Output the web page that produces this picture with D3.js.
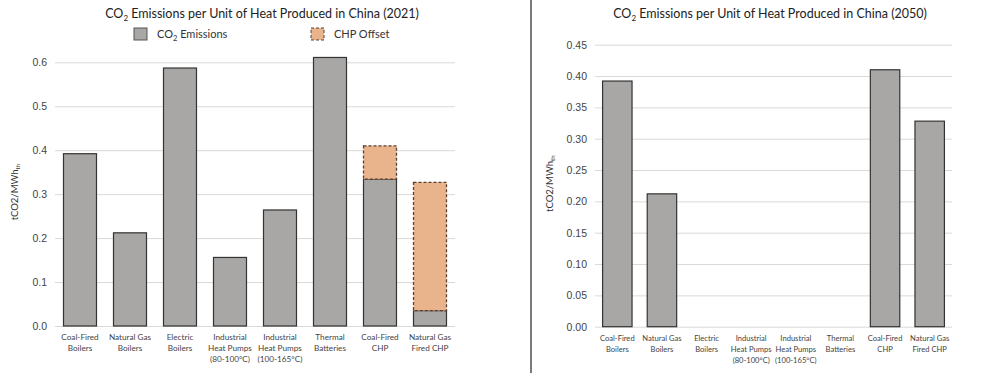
<!DOCTYPE html>
<html>
<head>
<meta charset="utf-8">
<script src="https://cdn.jsdelivr.net/npm/d3@7"></script>
<style>
  body { margin: 0; background: #fff; }
  svg { display: block; font-family: Lato, "Open Sans", sans-serif; }
  .tick text { fill: #444; }
</style>
</head>
<body>
<div id="chart"></div>
<script>
const categories = [
  ["Coal-Fired", "Boilers"],
  ["Natural Gas", "Boilers"],
  ["Electric", "Boilers"],
  ["Industrial", "Heat Pumps", "(80-100°C)"],
  ["Industrial", "Heat Pumps", "(100-165°C)"],
  ["Thermal", "Batteries"],
  ["Coal-Fired", "CHP"],
  ["Natural Gas", "Fired CHP"]
];
const emissions2021 = [0.392, 0.212, 0.587, 0.156, 0.264, 0.611, 0.334, 0.035];
const chpOffset2021 = [0, 0, 0, 0, 0, 0, 0.076, 0.292];
const emissions2050 = [0.392, 0.212, 0, 0, 0, 0, 0.410, 0.328];
const ticks2021 = [0, 0.1, 0.2, 0.3, 0.4, 0.5, 0.6];
const ticks2050 = [0, 0.05, 0.10, 0.15, 0.20, 0.25, 0.30, 0.35, 0.40, 0.45];

const W = 1000, H = 373;
const svg = d3.select("#chart").append("svg").attr("width", W).attr("height", H);

function panel(opt) {
  const x = d3.scaleBand().domain(d3.range(categories.length))
    .range([opt.left, opt.right]).paddingInner(0.34).paddingOuter(0.17);
  const y = d3.scaleLinear().domain([0, opt.max]).range([opt.bottom, opt.top]);

  // gridlines + tick labels
  const ga = svg.append("g").attr("transform", `translate(${opt.left},0)`)
    .call(d3.axisLeft(y).tickValues(opt.ticks).tickFormat(d3.format(opt.fmt))
      .tickSize(-(opt.right - opt.left)).tickPadding(8));
  ga.select(".domain").remove();
  ga.selectAll(".tick line").attr("stroke", "#d9d9d9");
  ga.selectAll(".tick text").attr("font-size", 10.5);

  // category labels
  const xa = svg.append("g");
  categories.forEach((lines, i) => {
    const cx = x(i) + x.bandwidth() / 2;
    const t = xa.append("text").attr("x", cx).attr("y", opt.bottom + 14)
      .attr("text-anchor", "middle").attr("font-size", opt.labelSize).attr("fill", "#444");
    lines.forEach((l, j) => t.append("tspan").attr("x", cx).attr("dy", j ? 11 : 0).text(l));
  });

  // bars
  const g = svg.append("g");
  opt.base.forEach((v, i) => {
    if (v > 0) g.append("rect").attr("x", x(i)).attr("width", x.bandwidth())
      .attr("y", y(v)).attr("height", y(0) - y(v))
      .attr("fill", "#a9a7a5").attr("stroke", "#333").attr("stroke-width", 1.2);
    const o = opt.offset ? opt.offset[i] : 0;
    if (o > 0) g.append("rect").attr("x", x(i)).attr("width", x.bandwidth())
      .attr("y", y(v + o)).attr("height", y(v) - y(v + o))
      .attr("fill", "#e9b48b").attr("stroke", "#5b4030").attr("stroke-width", 1.3)
      .attr("stroke-dasharray", "3,2");
  });

  // title
  const tt = svg.append("text").attr("x", opt.titleX).attr("y", 18)
    .attr("text-anchor", "middle").attr("font-size", 12.5).attr("fill", "#222");
  tt.append("tspan").text("CO");
  tt.append("tspan").attr("font-size", 8).attr("dy", 3).text("2");
  tt.append("tspan").attr("dy", -3).text(" Emissions per Unit of Heat Produced in China (" + opt.year + ")");

  // y title
  const yt = svg.append("text")
    .attr("transform", `translate(${opt.yTitleX},${(opt.top + opt.bottom) / 2 - 2}) rotate(-90)`)
    .attr("text-anchor", "middle").attr("font-size", 9.5).attr("fill", "#333");
  yt.append("tspan").text("tCO2/MWh");
  yt.append("tspan").attr("font-size", 6).attr("dy", 2).text("th");
}

panel({left: 55, right: 455, top: 62.3, bottom: 326, max: 0.6, ticks: ticks2021, fmt: ".1f",
  base: emissions2021, offset: chpOffset2021, titleX: 262, year: 2021, yTitleX: 18, labelSize: 8.2});
panel({left: 595, right: 952, top: 44.7, bottom: 326.7, max: 0.45, ticks: ticks2050, fmt: ".2f",
  base: emissions2050, offset: null, titleX: 770, year: 2050, yTitleX: 553, labelSize: 7.6});

// legend (2021 panel)
const lg = svg.append("g");
const legendItems = [
  {x: 134, fill: "#a9a7a5", stroke: "#555", dash: null, label: ["CO", "2", " Emissions"]},
  {x: 311, fill: "#e9b48b", stroke: "#5b4030", dash: "3,2", label: ["CHP Offset"]}
];
legendItems.forEach(it => {
  lg.append("rect").attr("x", it.x).attr("y", 28).attr("width", 13).attr("height", 12)
    .attr("fill", it.fill).attr("stroke", it.stroke).attr("stroke-width", 1)
    .attr("stroke-dasharray", it.dash);
  const t = lg.append("text").attr("x", it.x + 23).attr("y", 38)
    .attr("font-size", 11).attr("fill", "#333");
  if (it.label.length === 3) {
    t.append("tspan").text(it.label[0]);
    t.append("tspan").attr("font-size", 7.5).attr("dy", 3).text(it.label[1]);
    t.append("tspan").attr("dy", -3).text(it.label[2]);
  } else t.text(it.label[0]);
});

// divider
svg.append("line").attr("x1", 531).attr("x2", 531).attr("y1", 0).attr("y2", H)
  .attr("stroke", "#333").attr("stroke-width", 1.3);
</script>
</body>
</html>
